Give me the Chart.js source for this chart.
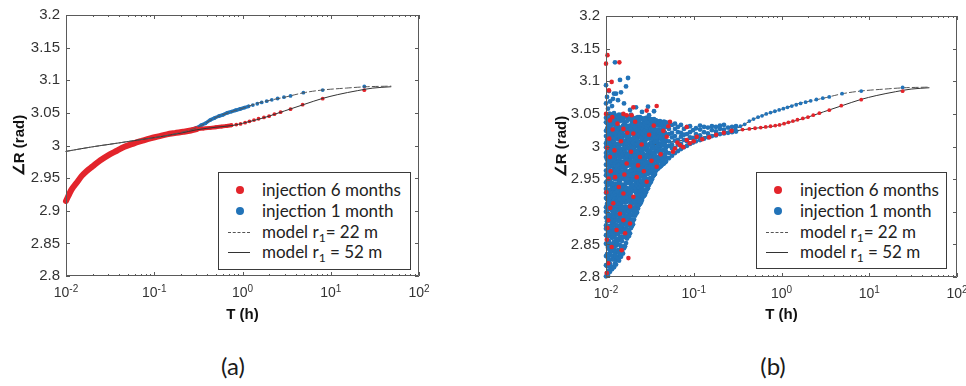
<!DOCTYPE html>
<html>
<head>
<meta charset="utf-8">
<script src="https://cdn.jsdelivr.net/npm/chart.js@4.4.0/dist/chart.umd.min.js"></script>
<style>
  body { margin: 0; background: #fff; }
  #page { position: relative; width: 966px; height: 386px; overflow: hidden; background: #fff; }
  #page canvas { position: absolute; top: 0; }
  .legend { position: absolute; box-sizing: border-box; border: 1px solid #3a3a3a; background: #fff;
            font-family: Lato, "Open Sans", sans-serif; font-size: 17px; color: #222; }
  .legend .row { position: absolute; left: 0; right: 0; height: 20px; line-height: 20px; white-space: nowrap; }
  .legend .dot { position: absolute; left: 17px; top: 6px; width: 8px; height: 8px; border-radius: 50%; }
  .legend .line { position: absolute; left: 9px; top: 10px; width: 22px; height: 0; }
  .legend .txt { position: absolute; left: 43px; top: 0; }
  .legend sub { font-size: 12px; vertical-align: -4px; line-height: 0; }
  .cap { position: absolute; top: 353px; width: 60px; margin-left: -30px; text-align: center;
         font-family: Lato, sans-serif; font-size: 24px; line-height: 26px; color: #1a1a1a; }
</style>
</head>
<body>
<div id="page">
  <canvas id="chartA" width="483" height="330" style="left:0"></canvas>
  <canvas id="chartB" width="483" height="330" style="left:483px"></canvas>

  <div class="legend" style="left:218px;top:172px;width:193px;height:98px">
    <div class="row" style="top:7px"><span class="dot" style="background:#e3242b"></span><span class="txt">injection 6 months</span></div>
    <div class="row" style="top:28px"><span class="dot" style="background:#2273b8"></span><span class="txt">injection 1 month</span></div>
    <div class="row" style="top:49px"><span class="line" style="border-top:1px dashed #555"></span><span class="txt">model r<sub>1</sub>= 22 m</span></div>
    <div class="row" style="top:69px"><span class="line" style="border-top:1px solid #333"></span><span class="txt">model r<sub>1</sub> = 52 m</span></div>
  </div>
  <div class="legend" style="left:756px;top:172px;width:191px;height:97px">
    <div class="row" style="top:7px"><span class="dot" style="background:#e3242b"></span><span class="txt">injection 6 months</span></div>
    <div class="row" style="top:28px"><span class="dot" style="background:#2273b8"></span><span class="txt">injection 1 month</span></div>
    <div class="row" style="top:49px"><span class="line" style="border-top:1px dashed #555"></span><span class="txt">model r<sub>1</sub>= 22 m</span></div>
    <div class="row" style="top:69px"><span class="line" style="border-top:1px solid #333"></span><span class="txt">model r<sub>1</sub> = 52 m</span></div>
  </div>

  <div class="cap" style="left:233px">(a)</div>
  <div class="cap" style="left:773px">(b)</div>
</div>

<script>
// axis ticks
const yTickValues = [2.8, 2.85, 2.9, 2.95, 3, 3.05, 3.1, 3.15, 3.2];
const yTickLabels = ['2.8', '2.85', '2.9', '2.95', '3', '3.05', '3.1', '3.15', '3.2'];
const xTickValues = [0.01, 0.1, 1, 10, 100];
const xTickExps = ['-2', '-1', '0', '1', '2'];

// 6 month injection, smooth early record (T in h, angle in rad)
const redBandT = [0.0100, 0.0115, 0.0132, 0.0150, 0.0172, 0.0200, 0.0243, 0.0300, 0.0377, 0.0460, 0.0582, 0.0720, 0.0901, 0.112, 0.139, 0.170, 0.214, 0.260, 0.300];
const redBandR = [2.915, 2.932, 2.943, 2.953, 2.961, 2.968, 2.977, 2.985, 2.992, 2.998, 3.003, 3.007, 3.011, 3.014, 3.017, 3.019, 3.021, 3.023, 3.025];

// later samples, shared by both panels
const redMidT = [0.36, 0.43, 0.50, 0.58, 0.66, 0.75, 0.85, 0.95, 1.07, 1.20, 1.35, 1.52, 1.75, 2.00, 2.30, 2.70, 3.50, 4.80, 8.10, 24.0];
const redMidR = [3.026, 3.027, 3.028, 3.029, 3.030, 3.031, 3.032, 3.033, 3.035, 3.037, 3.039, 3.041, 3.043, 3.045, 3.048, 3.051, 3.0556, 3.0626, 3.0717, 3.0848];
const blueMidT = [0.26, 0.30, 0.34, 0.38, 0.43, 0.48, 0.54, 0.60, 0.67, 0.75, 0.84, 0.94, 1.05, 1.17, 1.31, 1.47, 1.65, 1.88, 2.15, 2.50, 2.95, 3.50, 4.90, 8.10, 24.0];
const blueMidR = [3.024, 3.027, 3.031, 3.034, 3.039, 3.042, 3.045, 3.047, 3.050, 3.052, 3.054, 3.056, 3.058, 3.060, 3.062, 3.064, 3.066, 3.068, 3.070, 3.072, 3.074, 3.076, 3.081, 3.085, 3.0905];

// models
const model52T = [0.01, 0.02, 0.04, 0.07, 0.1, 0.2, 0.3, 0.5, 0.8, 1.0, 1.5, 2.0, 3.0, 5.0, 8.0, 12, 20, 30, 48];
const model52R = [2.991, 2.998, 3.004, 3.009, 3.012, 3.019, 3.024, 3.028, 3.031, 3.034, 3.040, 3.045, 3.053, 3.063, 3.072, 3.078, 3.084, 3.088, 3.090];
const model22T = [0.01, 0.02, 0.04, 0.07, 0.1, 0.2, 0.3, 0.5, 0.8, 1.0, 1.5, 2.0, 3.0, 5.0, 8.0, 15, 25, 48];
const model22R = [2.991, 2.998, 3.004, 3.009, 3.012, 3.020, 3.027, 3.043, 3.053, 3.057, 3.065, 3.069, 3.074, 3.081, 3.085, 3.088, 3.090, 3.091];

// noisy early record, 1 month injection: sample times and the angles read at each
const cloudBlueT = [
  0.01000, 0.01027, 0.01054, 0.01082, 0.01111, 0.01140, 0.01171, 0.01202, 0.01234, 0.01266, 0.01300,
  0.01335, 0.01370, 0.01407, 0.01444, 0.01482, 0.01522, 0.01562, 0.01604, 0.01647, 0.01691,
  0.01782, 0.01878, 0.01979, 0.02085, 0.02197, 0.02316, 0.02440, 0.02572, 0.02710, 0.02856,
  0.03010, 0.03172, 0.03343, 0.03524, 0.03713, 0.03913, 0.04124, 0.04346, 0.04581, 0.04830,
  0.0522, 0.0565, 0.0611, 0.0661, 0.0715, 0.0774, 0.0838, 0.0906, 0.0981, 0.106,
  0.118, 0.131, 0.145, 0.161, 0.179, 0.199, 0.221, 0.246, 0.273, 0.303,
  0.01735, 0.01829, 0.01928, 0.02031, 0.02141, 0.02256, 0.02378, 0.02506, 0.02641, 0.02783,
  0.02933, 0.03091, 0.03257, 0.03432, 0.03617, 0.03812, 0.04018, 0.04234, 0.04462, 0.04703
];
const cloudBlueR = [
  [2.801, 2.818, 2.832, 2.851, 2.864, 2.874, 2.879, 2.891, 2.900, 2.907, 2.921, 2.929, 2.935, 2.945, 2.956, 2.963, 2.972, 2.984, 2.990, 2.999, 3.005, 3.016, 3.024, 3.037, 3.044, 3.066, 3.094],
  [2.806, 2.817, 2.835, 2.850, 2.863, 2.877, 2.885, 2.891, 2.901, 2.912, 2.919, 2.928, 2.940, 2.946, 2.955, 2.961, 2.972, 2.980, 2.993, 3.000, 3.010, 3.015, 3.027, 3.036, 3.043, 3.076],
  [2.803, 2.817, 2.829, 2.845, 2.862, 2.869, 2.878, 2.890, 2.896, 2.905, 2.911, 2.922, 2.930, 2.943, 2.950, 2.960, 2.965, 2.977, 2.986, 2.993, 3.007, 3.015, 3.021, 3.031, 3.042, 3.049, 3.058],
  [2.810, 2.825, 2.843, 2.855, 2.870, 2.876, 2.887, 2.895, 2.908, 2.915, 2.925, 2.930, 2.942, 2.951, 2.958, 2.972, 2.980, 2.986, 2.996, 3.007, 3.014, 3.023, 3.035, 3.041, 3.050, 3.085],
  [2.808, 2.820, 2.837, 2.851, 2.870, 2.877, 2.887, 2.892, 2.904, 2.913, 2.920, 2.934, 2.942, 2.948, 2.958, 2.969, 2.976, 2.985, 2.997, 3.003, 3.012, 3.018, 3.029, 3.037, 3.050, 3.069],
  [2.814, 2.833, 2.846, 2.862, 2.867, 2.879, 2.888, 2.895, 2.909, 2.917, 2.923, 2.933, 2.944, 2.951, 2.960, 2.972, 2.978, 2.987, 2.993, 3.004, 3.012, 3.025, 3.032, 3.042, 3.047],
  [2.812, 2.827, 2.840, 2.860, 2.868, 2.874, 2.884, 2.895, 2.902, 2.911, 2.923, 2.929, 2.938, 2.944, 2.955, 2.963, 2.976, 2.983, 2.993, 2.998, 3.010, 3.019, 3.026, 3.040, 3.048, 3.062],
  [2.816, 2.832, 2.849, 2.862, 2.871, 2.883, 2.889, 2.898, 2.904, 2.915, 2.923, 2.936, 2.943, 2.953, 2.958, 2.970, 2.979, 2.986, 3.000, 3.008, 3.014, 3.024, 3.035, 3.042, 3.073],
  [2.815, 2.827, 2.842, 2.854, 2.871, 2.879, 2.892, 2.899, 2.909, 2.914, 2.926, 2.935, 2.942, 2.956, 2.964, 2.970, 2.980, 2.991, 2.998, 3.007, 3.019, 3.025, 3.034, 3.040, 3.051, 3.081],
  [2.821, 2.836, 2.848, 2.865, 2.873, 2.886, 2.893, 2.903, 2.908, 2.920, 2.929, 2.936, 2.950, 2.958, 2.964, 2.974, 2.985, 2.992, 3.001, 3.013, 3.019, 3.028, 3.034, 3.045, 3.129],
  [2.819, 2.832, 2.848, 2.859, 2.871, 2.880, 2.887, 2.901, 2.909, 2.915, 2.925, 2.936, 2.943, 2.952, 2.964, 2.970, 2.979, 2.985, 2.996, 3.004, 3.017, 3.024, 3.034, 3.039, 3.047, 3.081],
  [2.826, 2.840, 2.851, 2.867, 2.875, 2.888, 2.895, 2.905, 2.910, 2.922, 2.931, 2.938, 2.952, 2.960, 2.966, 2.976, 2.987, 2.994, 3.003, 3.015, 3.021, 3.030, 3.036, 3.047],
  [2.829, 2.841, 2.856, 2.866, 2.878, 2.887, 2.894, 2.908, 2.916, 2.922, 2.932, 2.943, 2.950, 2.959, 2.971, 2.977, 2.986, 2.992, 3.003, 3.011, 3.024, 3.031, 3.041, 3.046, 3.071],
  [2.825, 2.837, 2.856, 2.869, 2.875, 2.885, 2.896, 2.903, 2.912, 2.924, 2.930, 2.939, 2.945, 2.956, 2.964, 2.977, 2.984, 2.994, 2.999, 3.011, 3.020, 3.027, 3.041, 3.049],
  [2.833, 2.849, 2.861, 2.875, 2.887, 2.893, 2.902, 2.908, 2.919, 2.927, 2.940, 2.947, 2.957, 2.962, 2.974, 2.983, 2.990, 3.004, 3.012, 3.018, 3.028, 3.039, 3.046, 3.102],
  [2.831, 2.844, 2.862, 2.869, 2.879, 2.884, 2.896, 2.905, 2.912, 2.926, 2.934, 2.940, 2.950, 2.961, 2.968, 2.977, 2.989, 2.995, 3.004, 3.010, 3.021, 3.029, 3.042, 3.083],
  [2.838, 2.855, 2.869, 2.876, 2.890, 2.898, 2.904, 2.914, 2.925, 2.932, 2.941, 2.953, 2.959, 2.968, 2.974, 2.985, 2.993, 3.006, 3.013, 3.023, 3.028, 3.040, 3.049],
  [2.836, 2.847, 2.862, 2.873, 2.880, 2.889, 2.901, 2.907, 2.916, 2.922, 2.933, 2.941, 2.954, 2.961, 2.971, 2.976, 2.988, 2.997, 3.004, 3.018, 3.026, 3.032, 3.042],
  [2.844, 2.861, 2.872, 2.881, 2.887, 2.898, 2.906, 2.919, 2.926, 2.936, 2.941, 2.953, 2.962, 2.969, 2.983, 2.991, 2.997, 3.007, 3.018, 3.025, 3.034, 3.046, 3.066],
  [2.847, 2.862, 2.872, 2.884, 2.893, 2.900, 2.914, 2.922, 2.928, 2.938, 2.949, 2.956, 2.965, 2.977, 2.983, 2.992, 2.998, 3.009, 3.017, 3.030, 3.037, 3.047],
  [2.852, 2.866, 2.874, 2.880, 2.890, 2.901, 2.908, 2.917, 2.929, 2.935, 2.944, 2.950, 2.961, 2.969, 2.982, 2.989, 2.999, 3.004, 3.016, 3.025, 3.032, 3.046, 3.092],
  [2.862, 2.870, 2.883, 2.890, 2.900, 2.905, 2.917, 2.926, 2.933, 2.947, 2.955, 2.961, 2.971, 2.982, 2.989, 2.998, 3.010, 3.016, 3.025, 3.031, 3.042, 3.105],
  [2.867, 2.879, 2.888, 2.895, 2.909, 2.917, 2.923, 2.933, 2.944, 2.951, 2.960, 2.972, 2.978, 2.987, 2.993, 3.004, 3.012, 3.025, 3.032, 3.042, 3.056],
  [2.878, 2.884, 2.894, 2.905, 2.912, 2.921, 2.933, 2.939, 2.948, 2.954, 2.965, 2.973, 2.986, 2.993, 3.003, 3.008, 3.020, 3.029, 3.036, 3.045],
  [2.888, 2.900, 2.906, 2.915, 2.921, 2.932, 2.940, 2.953, 2.960, 2.970, 2.975, 2.987, 2.996, 3.003, 3.017, 3.025, 3.031, 3.041],
  [2.897, 2.908, 2.916, 2.929, 2.936, 2.946, 2.951, 2.963, 2.972, 2.979, 2.993, 3.001, 3.007, 3.017, 3.028, 3.035, 3.044, 3.060],
  [2.905, 2.910, 2.922, 2.931, 2.938, 2.952, 2.960, 2.966, 2.976, 2.987, 2.994, 3.003, 3.015, 3.021, 3.030, 3.036, 3.045],
  [2.912, 2.920, 2.926, 2.936, 2.947, 2.954, 2.963, 2.975, 2.981, 2.990, 2.996, 3.007, 3.015, 3.028, 3.035, 3.045],
  [2.918, 2.927, 2.939, 2.945, 2.954, 2.960, 2.971, 2.979, 2.992, 2.999, 3.009, 3.014, 3.026, 3.035, 3.042, 3.053],
  [2.924, 2.930, 2.941, 2.949, 2.962, 2.969, 2.979, 2.984, 2.996, 3.005, 3.012, 3.026, 3.034, 3.040],
  [2.930, 2.940, 2.945, 2.957, 2.966, 2.973, 2.987, 2.995, 3.001, 3.011, 3.022, 3.029, 3.038, 3.044],
  [2.936, 2.950, 2.958, 2.964, 2.974, 2.985, 2.992, 3.001, 3.013, 3.019, 3.028, 3.034, 3.043, 3.061],
  [2.944, 2.951, 2.960, 2.972, 2.978, 2.987, 2.993, 3.004, 3.012, 3.025, 3.032, 3.042],
  [2.950, 2.959, 2.965, 2.976, 2.984, 2.997, 3.004, 3.014, 3.019, 3.031, 3.040],
  [2.956, 2.963, 2.973, 2.978, 2.990, 2.999, 3.006, 3.020, 3.028, 3.034, 3.042, 3.054],
  [2.963, 2.970, 2.984, 2.992, 2.998, 3.008, 3.019, 3.026, 3.035, 3.040],
  [2.966, 2.977, 2.984, 2.993, 3.005, 3.011, 3.020, 3.026, 3.037],
  [2.969, 2.982, 2.989, 2.999, 3.004, 3.016, 3.025, 3.032, 3.039],
  [2.972, 2.981, 2.988, 3.002, 3.010, 3.016, 3.026, 3.037],
  [2.974, 2.984, 2.995, 3.002, 3.011, 3.023, 3.029, 3.038],
  [2.977, 2.983, 2.992, 2.998, 3.009, 3.017, 3.030, 3.037],
  [2.982, 2.990, 3.001, 3.008, 3.019, 3.027, 3.036],
  [2.986, 2.997, 3.003, 3.014, 3.021, 3.033],
  [2.990, 2.998, 3.009, 3.016, 3.027, 3.035],
  [2.993, 3.003, 3.010, 3.022, 3.030],
  [2.996, 3.004, 3.015, 3.021, 3.033],
  [2.999, 3.010, 3.018, 3.027],
  [3.001, 3.008, 3.019, 3.030],
  [3.004, 3.014, 3.022, 3.031],
  [3.006, 3.013, 3.025],
  [3.008, 3.019, 3.028],
  [3.010, 3.017, 3.026, 3.032],
  [3.012, 3.022, 3.030],
  [3.014, 3.020, 3.029],
  [3.016, 3.025, 3.031],
  [3.017, 3.023, 3.030],
  [3.019, 3.027, 3.032],
  [3.020, 3.026, 3.033],
  [3.021, 3.029],
  [3.022, 3.030],
  [3.023, 3.031],
  // in-between sample times, 0.017 to 0.047 h
  [2.859, 2.872, 2.879, 2.889, 2.894, 2.906, 2.915, 2.922, 2.936, 2.944, 2.950, 2.960, 2.971, 2.978, 2.987, 2.999, 3.005, 3.014, 3.020, 3.031, 3.039, 3.046],
  [2.863, 2.872, 2.879, 2.893, 2.901, 2.907, 2.917, 2.928, 2.935, 2.944, 2.956, 2.962, 2.971, 2.977, 2.988, 2.996, 3.009, 3.016, 3.026, 3.031, 3.043],
  [2.875, 2.885, 2.896, 2.903, 2.912, 2.924, 2.930, 2.939, 2.945, 2.956, 2.964, 2.977, 2.984, 2.994, 2.999, 3.011, 3.020, 3.027, 3.041, 3.049],
  [2.881, 2.887, 2.896, 2.902, 2.913, 2.921, 2.934, 2.941, 2.951, 2.956, 2.968, 2.977, 2.984, 2.998, 3.006, 3.012, 3.022, 3.033, 3.040],
  [2.894, 2.902, 2.915, 2.922, 2.932, 2.937, 2.949, 2.958, 2.965, 2.979, 2.987, 2.993, 3.003, 3.014, 3.021, 3.030, 3.042],
  [2.899, 2.911, 2.920, 2.927, 2.941, 2.949, 2.955, 2.965, 2.976, 2.983, 2.992, 3.004, 3.010, 3.019, 3.025, 3.036, 3.044],
  [2.910, 2.916, 2.926, 2.937, 2.944, 2.953, 2.965, 2.971, 2.980, 2.986, 2.997, 3.005, 3.018, 3.025, 3.035, 3.040],
  [2.914, 2.926, 2.932, 2.941, 2.947, 2.958, 2.966, 2.979, 2.986, 2.996, 3.001, 3.013, 3.022, 3.029, 3.043],
  [2.923, 2.934, 2.942, 2.955, 2.962, 2.972, 2.977, 2.989, 2.998, 3.005, 3.019, 3.027, 3.033, 3.043],
  [2.926, 2.931, 2.943, 2.952, 2.959, 2.973, 2.981, 2.987, 2.997, 3.008, 3.015, 3.024, 3.036, 3.042],
  [2.934, 2.942, 2.948, 2.958, 2.969, 2.976, 2.985, 2.997, 3.003, 3.012, 3.018, 3.029, 3.037],
  [2.941, 2.950, 2.962, 2.968, 2.977, 2.983, 2.994, 3.002, 3.015, 3.022, 3.032, 3.037, 3.048],
  [2.946, 2.952, 2.963, 2.971, 2.984, 2.991, 3.001, 3.006, 3.018, 3.027, 3.034, 3.042],
  [2.954, 2.964, 2.969, 2.981, 2.990, 2.997, 3.011, 3.019, 3.025, 3.035, 3.041],
  [2.958, 2.972, 2.980, 2.986, 2.996, 3.007, 3.014, 3.023, 3.035, 3.040],
  [2.965, 2.972, 2.981, 2.993, 2.999, 3.008, 3.014, 3.025, 3.033, 3.039],
  [2.968, 2.977, 2.983, 2.994, 3.002, 3.015, 3.022, 3.032, 3.038],
  [2.970, 2.977, 2.987, 2.992, 3.004, 3.013, 3.020, 3.034],
  [2.973, 2.980, 2.994, 3.002, 3.008, 3.018, 3.029, 3.036],
  [2.976, 2.987, 2.994, 3.003, 3.015, 3.021, 3.030, 3.036]
];

// noisy early record, 6 month injection: [T, angle]
const cloudRed = [
  [0.0104, 3.140], [0.0100, 3.127], [0.0142, 3.129], [0.0116, 3.099], [0.0108, 3.086], [0.0205, 3.060],
  [0.0378, 3.062], [0.0158, 3.050], [0.0172, 3.048], [0.0196, 3.048], [0.0111, 3.040], [0.0291, 3.055],
  [0.0536, 3.038], [0.0513, 3.031], [0.0831, 3.030], [0.0158, 3.027], [0.0205, 3.020], [0.0492, 3.015],
  [0.0831, 3.010], [0.108, 3.015], [0.0760, 2.999], [0.0611, 2.997], [0.0111, 2.984], [0.0244, 2.984],
  [0.0172, 2.974], [0.0378, 2.969], [0.0127, 2.953], [0.0224, 2.953], [0.0291, 2.946], [0.0158, 2.928],
  [0.0205, 2.923], [0.0121, 2.913], [0.0188, 2.908], [0.0144, 2.897], [0.0106, 2.887], [0.0158, 2.887],
  [0.0188, 2.882], [0.0132, 2.872], [0.0165, 2.867], [0.0102, 2.857], [0.0116, 2.846], [0.0151, 2.841],
  [0.0180, 2.829], [0.0106, 2.821], [0.0102, 2.806], [0.0103, 2.998], [0.0109, 3.012], [0.0113, 2.962],
  [0.0119, 3.026], [0.0125, 2.994], [0.0135, 3.035], [0.0140, 2.938], [0.0148, 3.008], [0.0162, 2.957],
  [0.0175, 3.021], [0.0193, 2.992], [0.0215, 3.038], [0.0232, 2.971], [0.0255, 3.003], [0.0270, 2.962],
  [0.0310, 3.018], [0.0330, 2.978], [0.0350, 3.032], [0.0420, 2.988], [0.0450, 3.024], [0.0580, 2.992],
  [0.0650, 3.006], [0.0700, 3.002], [0.0900, 3.005], [0.100, 3.008], [0.125, 3.011], [0.150, 3.014],
  [0.180, 3.018], [0.220, 3.021], [0.270, 3.024], [0.0101, 2.930], [0.0104, 2.875], [0.0107, 2.951],
  [0.0100, 3.050], [0.0112, 2.906], [0.0118, 3.045]
];

const RED = '#e3242b';
const BLUE = '#2273b8';
const SANS = '"Liberation Sans", Arial, sans-serif';

function pts(ts, rs) {
  return ts.map((t, i) => ({ x: t, y: rs[i] }));
}

const redMidPts = pts(redMidT, redMidR);
const blueMidPts = pts(blueMidT, blueMidR);
const cloudBluePts = cloudBlueT.flatMap((t, i) => cloudBlueR[i].map(r => ({ x: t, y: r })));
const cloudRedPts = cloudRed.map(p => ({ x: p[0], y: p[1] }));

function dots(data, color, radius, order) {
  return { data, order, showLine: false, clip: false,
           pointRadius: radius, pointBorderWidth: 0,
           backgroundColor: color, pointBackgroundColor: color, borderColor: color };
}
function curve(data, color, width, dash, order) {
  return { data, order, showLine: true, clip: false, pointRadius: 0,
           borderColor: color, borderWidth: width, borderDash: dash,
           borderCapStyle: 'round', cubicInterpolationMode: 'monotone' };
}

// box, inward ticks and the 10^n labels under the x axis
const axesFrame = {
  id: 'axesFrame',
  afterDatasetsDraw(chart) {
    const { ctx, chartArea: a, scales: { x, y } } = chart;
    ctx.save();
    ctx.strokeStyle = '#5a5a5a';
    ctx.lineWidth = 1;
    ctx.beginPath();
    ctx.rect(a.left + 0.5, a.top + 0.5, a.right - a.left - 1, a.bottom - a.top - 1);
    yTickValues.forEach(v => {
      const py = Math.round(y.getPixelForValue(v)) + 0.5;
      ctx.moveTo(a.left, py); ctx.lineTo(a.left + 4, py);
      ctx.moveTo(a.right, py); ctx.lineTo(a.right - 4, py);
    });
    xTickValues.forEach((v, i) => {
      const px = Math.round(x.getPixelForValue(v)) + 0.5;
      ctx.moveTo(px, a.bottom); ctx.lineTo(px, a.bottom - 4);
      ctx.moveTo(px, a.top); ctx.lineTo(px, a.top + 4);
      if (i === xTickValues.length - 1) return;
      for (let m = 2; m <= 9; m++) {
        const pm = Math.round(x.getPixelForValue(v * m)) + 0.5;
        ctx.moveTo(pm, a.bottom); ctx.lineTo(pm, a.bottom - 2);
        ctx.moveTo(pm, a.top); ctx.lineTo(pm, a.top + 2);
      }
    });
    ctx.stroke();

    ctx.fillStyle = '#333';
    ctx.textAlign = 'left';
    ctx.textBaseline = 'alphabetic';
    xTickValues.forEach((v, i) => {
      const px = x.getPixelForValue(v);
      ctx.font = '14px ' + SANS;
      const wb = ctx.measureText('10').width;
      ctx.font = '10px ' + SANS;
      const we = ctx.measureText(xTickExps[i]).width;
      const left = px - (wb + we) / 2;
      ctx.font = '14px ' + SANS;
      ctx.fillText('10', left, a.bottom + 21);
      ctx.font = '10px ' + SANS;
      ctx.fillText(xTickExps[i], left + wb, a.bottom + 16);
    });
    ctx.restore();
  }
};

function buildChart(id, datasets, g) {
  return new Chart(document.getElementById(id), {
    type: 'scatter',
    data: { datasets },
    options: {
      responsive: false,
      animation: false,
      events: [],
      layout: { padding: { left: 0, top: g.top, right: g.right, bottom: 0 } },
      plugins: { legend: { display: false }, tooltip: { enabled: false } },
      scales: {
        x: {
          type: 'logarithmic', min: 0.01, max: 100,
          grid: { display: false, drawTicks: false }, border: { display: false },
          ticks: { display: false },
          title: { display: true, text: 'T (h)', color: '#111',
                   font: { family: SANS, size: 15, weight: 'bold' }, padding: { top: 0, bottom: 6 } },
          afterFit: s => { s.height = g.xh; }
        },
        y: {
          min: 2.8, max: 3.2,
          grid: { display: false, drawTicks: false }, border: { display: false },
          afterBuildTicks: s => { s.ticks = yTickValues.map(v => ({ value: v })); },
          ticks: { callback: (v, i) => yTickLabels[i], color: '#333', padding: 6,
                   font: { family: SANS, size: 15 } },
          title: { display: true, text: '∠R (rad)', color: '#111',
                   font: { family: SANS, size: 15, weight: 'bold' }, padding: { top: g.titlePad, bottom: 0 } },
          afterFit: s => { s.width = g.yw; }
        }
      }
    },
    plugins: [axesFrame]
  });
}

// (a) smooth records
buildChart('chartA', [
  curve(pts(model22T, model22R), '#555', 1, [6, 3], 1),
  curve(pts(model52T, model52R), '#333', 1, [], 2),
  dots(redMidPts, RED, 1.9, 3),
  curve(pts(redBandT, redBandR), RED, 6, [], 4),
  curve(pts(redBandT, redBandR).slice(-3).concat(redMidPts.filter(p => p.x <= 0.8)), RED, 4, [], 5),
  dots(blueMidPts, BLUE, 1.9, 6),
  curve(blueMidPts.filter(p => p.x <= 1.2), BLUE, 3.5, [], 7)
], { top: 12, right: 64, xh: 54, yw: 66, titlePad: 11 });

// (b) noisy records
buildChart('chartB', [
  dots(redMidPts, RED, 1.9, 1),
  dots(cloudRedPts, RED, 2.3, 2),
  dots(blueMidPts, BLUE, 1.9, 3),
  dots(cloudBluePts, BLUE, 2.4, 4),
  curve(pts(model22T, model22R), '#555', 1, [6, 3], 5),
  curve(pts(model52T, model52R), '#333', 1, [], 6)
], { top: 16, right: 9, xh: 53, yw: 123, titlePad: 70 });
</script>
</body>
</html>
